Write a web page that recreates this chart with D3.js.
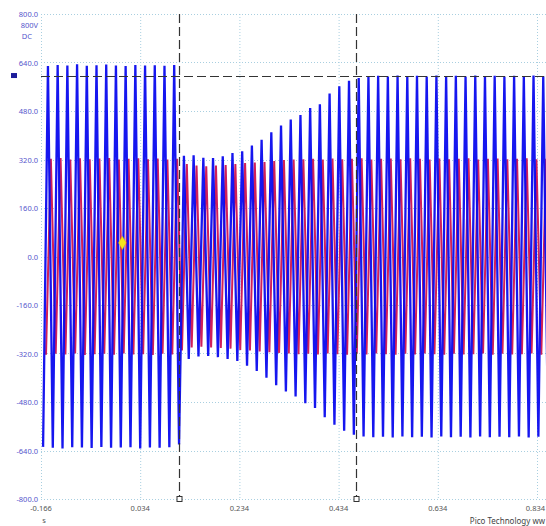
<!DOCTYPE html>
<html>
<head>
<meta charset="utf-8">
<script src="https://cdn.jsdelivr.net/npm/d3@7"></script>
<style>
  body { margin: 0; background: #fff; }
  svg { display: block; font-family: "Noto Sans", "DejaVu Sans", sans-serif; }
</style>
</head>
<body>
<svg id="chart" width="546" height="526"></svg>
<script>
// Scope capture: channel A (blue) and channel B (red), 50 Hz-ish mains
let xTicks = [-0.166, 0.034, 0.234, 0.434, 0.634, 0.834];
let yTicks = [800, 640, 480, 320, 160, 0, -160, -320, -480, -640, -800];

// time of first blue crest and cycle length
let firstCrest = -0.152;
let period = 0.01958;

// blue crests (V), one per cycle
let bluePeaks = [628, 632, 630, 634, 629, 631, 633, 630, 628, 632, 630, 631, 629, 632,
    332, 334, 326, 325, 331, 341, 347, 366, 385, 410, 432, 452, 467, 490, 502, 538, 562, 580,
    589, 593, 596, 594, 597, 595, 596, 594, 597, 595, 596, 594, 597, 595, 596, 594, 596, 595, 597, 595];
// blue troughs (V), half a cycle before each crest (one extra at the end)
let blueTroughs = [-628, -631, -633, -629, -630, -632, -628, -631, -630, -629, -633, -630, -631, -629,
    -620, -338, -330, -328, -332, -338, -345, -360, -378, -400, -425, -445, -462, -484, -500, -530, -555,
    -575, -588, -594, -596, -595, -597, -594, -596, -595, -597, -594, -596, -595, -597, -594, -596, -595,
    -596, -594, -597, -595, -596];

// red channel crests / troughs
let redPeaks = [322, 325, 320, 324, 321, 323, 325, 320, 322, 324, 321, 323, 320, 322,
    305, 300, 298, 300, 302, 305, 308, 310, 312, 315, 318, 320, 321, 322, 320, 323, 321, 322,
    324, 320, 322, 323, 321, 324, 322, 320, 323, 321, 322, 324, 320, 322, 323, 321, 322, 324, 321, 322];
let redTroughs = [-324, -321, -323, -320, -325, -322, -321, -324, -320, -323, -322, -325, -321, -323,
    -310, -300, -298, -300, -302, -304, -308, -310, -313, -316, -318, -320, -322, -321, -323, -320, -322,
    -324, -321, -323, -320, -322, -324, -321, -323, -320, -322, -324, -321, -323, -322, -320, -324, -321,
    -323, -322, -320, -324, -321];
let redShift = 0.3;   // red crest lags the blue crest by this fraction of a cycle

let cursorTimes = [0.1122, 0.469];
let cursorLevel = 597;
let markerPoint = {t: -0.002, v: 45};   // yellow ruler marker

let margin = {top: 14, bottom: 27, left: 41, right: 0};
let width = 546, height = 526;

let svg = d3.select("#chart");

let x = d3.scaleLinear().domain([-0.166, 0.834]).range([margin.left, 537]);
let y = d3.scaleLinear().domain([-800, 800]).range([height - margin.bottom, margin.top]);
let plotRight = width;

svg.append("defs").append("clipPath").attr("id", "plot")
    .append("rect")
    .attr("x", margin.left).attr("y", margin.top)
    .attr("width", plotRight - margin.left).attr("height", y(-800) - y(800));

// grid
let grid = svg.append("g").attr("stroke", "#a9cfe0").attr("stroke-dasharray", "1,2").attr("stroke-width", 1);
grid.selectAll(".gx").data(xTicks).join("line")
    .attr("x1", d => x(d) + 0.5).attr("x2", d => x(d) + 0.5)
    .attr("y1", y(800)).attr("y2", y(-800));
grid.selectAll(".gy").data(yTicks).join("line")
    .attr("y1", d => Math.round(y(d)) + 0.5).attr("y2", d => Math.round(y(d)) + 0.5)
    .attr("x1", margin.left).attr("x2", plotRight);

// y labels
let labelBlue = "#5555cc";
svg.append("g").selectAll("text").data(yTicks).join("text")
    .attr("x", 38).attr("y", d => y(d) + 3)
    .attr("text-anchor", "end")
    .attr("font-size", 7.5).attr("fill", labelBlue)
    .text(d => d.toFixed(1));
svg.append("text").attr("x", 38).attr("y", y(800) + 14).attr("text-anchor", "end")
    .attr("font-size", 7.5).attr("fill", labelBlue).text("800V");
svg.append("text").attr("x", 32).attr("y", y(800) + 25).attr("text-anchor", "end")
    .attr("font-size", 7.5).attr("fill", labelBlue).text("DC");

// x labels
svg.append("g").selectAll("text").data(xTicks).join("text")
    .attr("x", d => d === 0.834 ? 545 : x(d))
    .attr("y", y(-800) + 12)
    .attr("text-anchor", d => d === 0.834 ? "end" : "middle")
    .attr("font-size", 7.5).attr("fill", "#555")
    .text(d => d.toFixed(3));
svg.append("text").attr("x", 44).attr("y", y(-800) + 24).attr("text-anchor", "middle")
    .attr("font-size", 7.5).attr("fill", "#555").text("s");
svg.append("text").attr("x", 545).attr("y", y(-800) + 25).attr("text-anchor", "end")
    .attr("font-size", 8).attr("fill", "#444").text("Pico Technology  ww");

// build traces from the crest/trough lists
function tracePoints(peaks, troughs, shift) {
    let pts = [];
    for (let i = 0; i < troughs.length; i++) {
        let t0 = firstCrest + (i + shift) * period;
        pts.push([t0 - period / 2, troughs[i]]);
        if (i < peaks.length) pts.push([t0, peaks[i]]);
    }
    return pts;
}

let line = d3.line()
    .x(d => x(d[0]))
    .y(d => y(d[1]));

// red underneath, blue on top
let traces = svg.append("g").attr("clip-path", "url(#plot)");
traces.append("path")
    .datum(tracePoints(redPeaks, redTroughs, redShift))
    .attr("fill", "none")
    .attr("stroke", "#d0205a")
    .attr("stroke-width", 2)
    .attr("stroke-linejoin", "miter")
    .attr("stroke-miterlimit", 30)
    .attr("d", line);
traces.append("path")
    .datum(tracePoints(bluePeaks, blueTroughs, 0))
    .attr("fill", "none")
    .attr("stroke", "#0a0aee")
    .attr("stroke-opacity", 0.95)
    .attr("stroke-width", 2.3)
    .attr("stroke-linejoin", "miter")
    .attr("stroke-miterlimit", 30)
    .attr("d", line);

// cursors
let cur = svg.append("g").attr("stroke", "#333").attr("stroke-dasharray", "9,4").attr("stroke-width", 1.2);
cur.selectAll("line.v").data(cursorTimes).join("line")
    .attr("x1", d => Math.round(x(d)) + 0.5).attr("x2", d => Math.round(x(d)) + 0.5)
    .attr("y1", y(800)).attr("y2", y(-800));
cur.append("line")
    .attr("x1", margin.left).attr("x2", plotRight)
    .attr("y1", Math.round(y(cursorLevel)) + 0.5).attr("y2", Math.round(y(cursorLevel)) + 0.5);

svg.append("g").selectAll("rect").data(cursorTimes).join("rect")
    .attr("x", d => Math.round(x(d)) - 2).attr("y", y(-800) - 2.5)
    .attr("width", 5).attr("height", 5)
    .attr("fill", "#fff").attr("stroke", "#333").attr("stroke-width", 1);
svg.append("rect")
    .attr("x", 11).attr("y", y(cursorLevel) - 2.5)
    .attr("width", 6).attr("height", 5)
    .attr("fill", "#1c1c9a");

// yellow ruler marker
svg.append("path")
    .attr("d", d3.symbol(d3.symbolDiamond, 50)())
    .attr("transform", `translate(${x(markerPoint.t)},${y(markerPoint.v)})`)
    .attr("fill", "#f5e41c").attr("stroke", "#d8c000").attr("stroke-width", 0.5);
</script>
</body>
</html>
